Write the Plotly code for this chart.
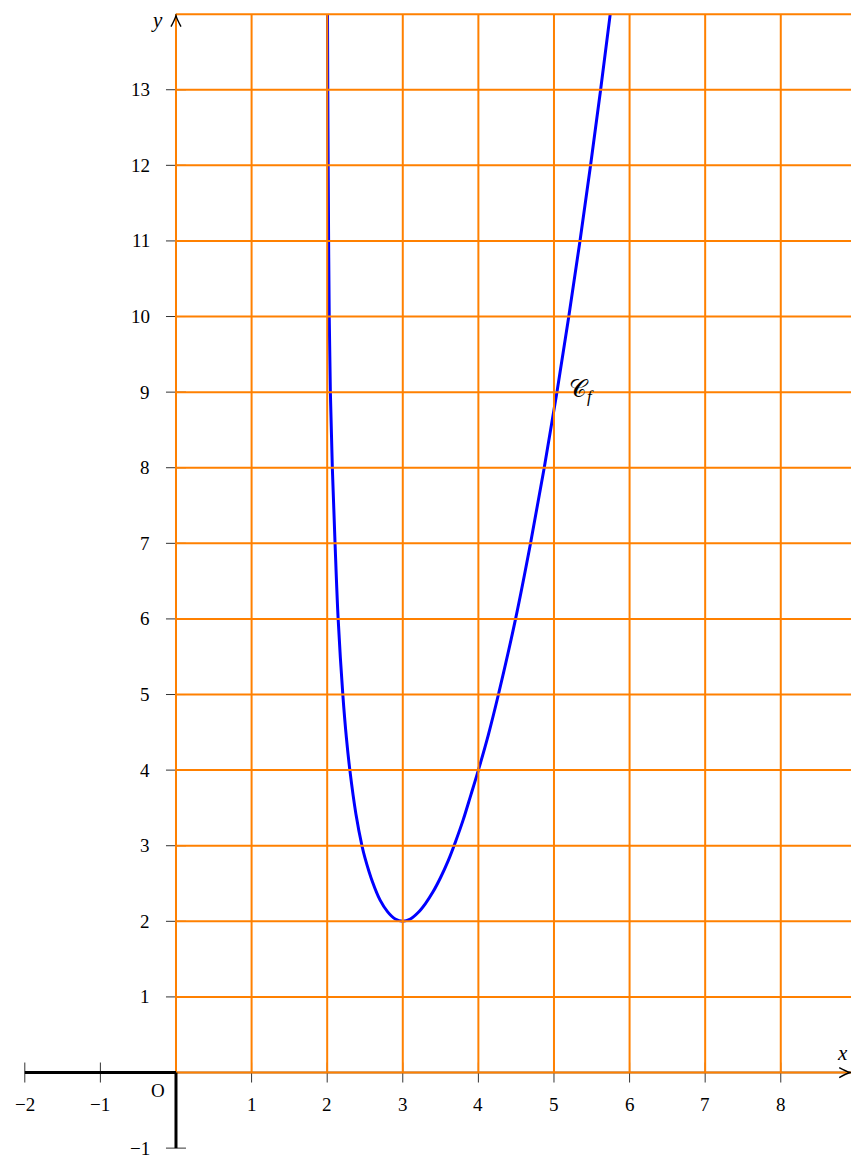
import plotly.graph_objects as go

# Points of the curve C_f (branch x > 2, vertical asymptote x = 2, minimum at (3, 2))
curve_x = [2.004, 2.008, 2.013, 2.019, 2.027, 2.042, 2.068, 2.104, 2.145, 2.207,
           2.255, 2.30, 2.38, 2.46, 2.50, 2.60, 2.70, 2.80, 2.90,
           3.0,
           3.10, 3.20, 3.30, 3.40, 3.50, 3.60, 3.70, 3.80, 3.90, 4.0,
           4.13, 4.265, 4.492, 4.69, 4.871, 5.039, 5.196, 5.344, 5.484, 5.617, 5.744]
curve_y = [14, 13, 12, 11, 10, 9, 8, 7, 6, 5,
           4.42, 4.0, 3.42, 3.0, 2.84, 2.52, 2.28, 2.125, 2.03,
           2.0,
           2.03, 2.1125, 2.235, 2.39, 2.58, 2.80, 3.06, 3.345, 3.67, 4.0,
           4.46, 5, 6, 7, 8, 9, 10, 11, 12, 13, 14]

x_tick_values = [-2, -1, 1, 2, 3, 4, 5, 6, 7, 8]
y_tick_values = [-1, 1, 2, 3, 4, 5, 6, 7, 8, 9, 10, 11, 12, 13]
grid_x_values = [0, 1, 2, 3, 4, 5, 6, 7, 8]
grid_y_values = [0, 1, 2, 3, 4, 5, 6, 7, 8, 9, 10, 11, 12, 13, 14]

X_MIN, X_MAX = -2.328, 8.929
Y_MIN, Y_MAX = -1.144, 14.187
UNIT = 75.6  # pixels per unit on both axes
TICK = 10 / UNIT

ORANGE = "#ff8000"
BLUE = "#0000ff"
FONT = "Liberation Serif"


def minus(v):
    return str(v).replace("-", "\u2212")


shapes = []

# thin positive half-axes (under the grid)
shapes.append(dict(type="line", xref="x", yref="y", x0=0, y0=0, x1=X_MAX, y1=0,
                   line=dict(color="black", width=1.6)))
shapes.append(dict(type="line", xref="x", yref="y", x0=0, y0=0, x1=0, y1=14,
                   line=dict(color="black", width=1.6)))

# tick marks
for t in x_tick_values:
    shapes.append(dict(type="line", xref="x", yref="y", x0=t, x1=t, y0=-TICK, y1=TICK,
                       line=dict(color="#333333", width=1)))
for t in y_tick_values:
    shapes.append(dict(type="line", xref="x", yref="y", x0=-TICK, x1=TICK, y0=t, y1=t,
                       line=dict(color="#333333", width=1)))

# orange grid in the first quadrant
g_top = max(grid_y_values)
for gx in grid_x_values:
    shapes.append(dict(type="line", xref="x", yref="y", x0=gx, x1=gx, y0=0, y1=g_top,
                       line=dict(color=ORANGE, width=2)))
for gy in grid_y_values:
    shapes.append(dict(type="line", xref="x", yref="y", x0=0, x1=X_MAX + 0.2, y0=gy, y1=gy,
                       line=dict(color=ORANGE, width=2)))

# thick negative half-axes
shapes.append(dict(type="line", xref="x", yref="y", x0=min(x_tick_values), x1=0, y0=0, y1=0,
                   line=dict(color="black", width=3)))
shapes.append(dict(type="line", xref="x", yref="y", x0=0, x1=0, y0=min(y_tick_values), y1=0,
                   line=dict(color="black", width=3)))

# arrow heads (pixel-sized chevrons anchored at the axis ends)
shapes.append(dict(type="path", xref="x", yref="y", xsizemode="pixel", ysizemode="pixel",
                   xanchor=X_MAX - 0.01, yanchor=0,
                   path="M -11 -5 Q -4 -1.2 0 0 Q -4 1.2 -11 5",
                   line=dict(color="black", width=1.4)))
shapes.append(dict(type="path", xref="x", yref="y", xsizemode="pixel", ysizemode="pixel",
                   xanchor=0, yanchor=14 - 1.5 / UNIT,
                   path="M -5 -11 Q -1.2 -4 0 0 Q 1.2 -4 5 -11",
                   line=dict(color="black", width=1.4)))

annotations = []
tick_font = dict(family=FONT, size=19, color="black")

for t in x_tick_values:
    annotations.append(dict(x=t, y=0, xref="x", yref="y", text=minus(t), showarrow=False,
                            xanchor="center", yanchor="middle", yshift=-32, font=tick_font))
for t in y_tick_values:
    annotations.append(dict(x=0, y=t, xref="x", yref="y", text=minus(t), showarrow=False,
                            xanchor="right", yanchor="middle", xshift=-24, font=tick_font))

annotations.append(dict(x=0, y=0, xref="x", yref="y", text="O", showarrow=False,
                        xanchor="center", yanchor="middle", xshift=-18, yshift=-18,
                        font=tick_font))

# axis names
annotations.append(dict(x=0, y=14, xref="x", yref="y", text="<i>y</i>", showarrow=False,
                        xanchor="center", yanchor="middle", xshift=-19, yshift=-6,
                        font=dict(family=FONT, size=21, color="black")))
annotations.append(dict(x=8.81, y=0, xref="x", yref="y", text="<i>x</i>", showarrow=False,
                        xanchor="center", yanchor="middle", yshift=20,
                        font=dict(family=FONT, size=21, color="black")))

# curve name
annotations.append(dict(x=5.17, y=9, xref="x", yref="y",
                        text="\U0001D49E<sub><i>f</i></sub>", showarrow=False,
                        xanchor="left", yanchor="middle", yshift=1,
                        font=dict(family=FONT, size=24, color="black")))

fig = go.Figure()
fig.add_trace(go.Scatter(x=curve_x, y=curve_y, mode="lines",
                         line=dict(color=BLUE, width=3, shape="spline", smoothing=1.0),
                         hoverinfo="skip", cliponaxis=True))

fig.update_layout(
    width=851, height=1159, autosize=False,
    margin=dict(l=0, r=0, t=0, b=0, pad=0),
    paper_bgcolor="white", plot_bgcolor="white",
    showlegend=False,
    xaxis=dict(range=[X_MIN, X_MAX], visible=False, fixedrange=True),
    yaxis=dict(range=[Y_MIN, Y_MAX], visible=False, fixedrange=True),
    shapes=shapes, annotations=annotations,
)

fig.write_html("out.html")
